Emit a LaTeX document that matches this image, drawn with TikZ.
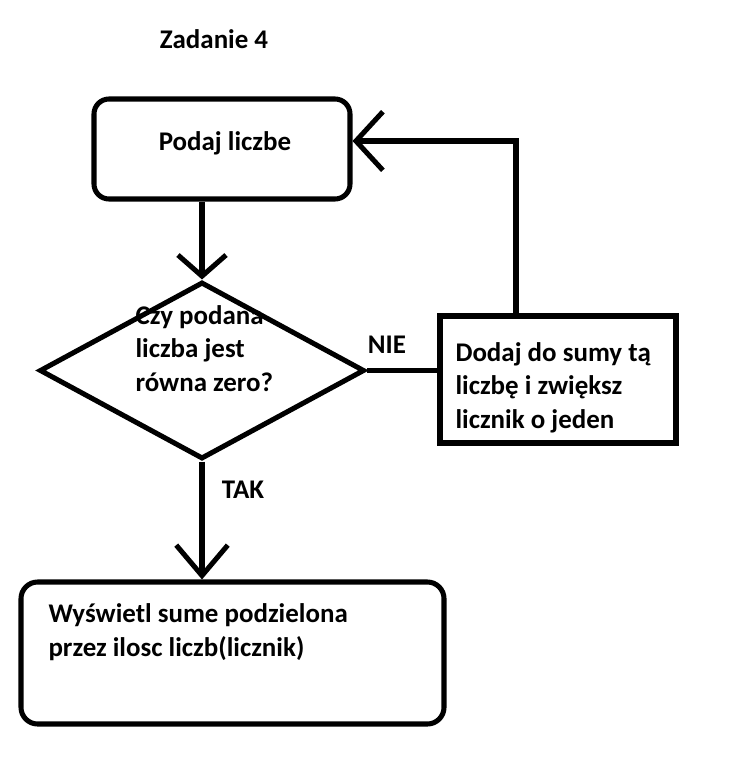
\documentclass[tikz,border=0pt]{standalone}
\usepackage{fontspec}
\setmainfont{Carlito}
\usetikzlibrary{shapes.geometric,arrows.meta,positioning}

\begin{document}
\begin{tikzpicture}[x=0.03cm,y=-0.03cm,line width=4.3pt,
    font=\bfseries\fontsize{23}{28.5}\selectfont,
    txt/.style={inner sep=0pt,align=left},
    startbox/.style={draw,rounded corners=0.45cm,minimum width=7.68cm,minimum height=3cm},
    decision/.style={draw,diamond,inner sep=0pt,minimum width=9.75cm,minimum height=5.31cm},
    process/.style={draw,minimum width=7.08cm,minimum height=3.81cm},
    endbox/.style={draw,rounded corners=0.5cm,minimum width=12.69cm,minimum height=4.26cm}]
    \useasboundingbox (0,0) rectangle (735,779);
    \node[txt,anchor=base] (title) at (214,48) {Zadanie 4};
    % boxes
    \node[startbox] (podaj)    at (222,149)   {};
    \node[decision] (czy)      at (202,370.5) {};
    \node[process]  (dodaj)    at (558,379.5) {};
    \node[endbox]   (wyswietl) at (232.5,653) {};
    % texts (base = last line)
    \node[txt,anchor=base]      (podajtxt) at (225,150) {Podaj liczbe};
    \node[txt,anchor=base west] (czytxt)   at (133,391) {Czy podana\\liczba jest\\równa zero?};
    \node[txt,anchor=base west] (dodajtxt) at (453,428) {Dodaj do sumy tą\\liczbę i zwiększ\\licznik o jeden};
    \node[txt,anchor=base west] (wyswtxt)  at (46,656)  {Wyświetl sume podzielona\\przez ilosc liczb(licznik)};
    \node[txt,anchor=base]      (nie)      at (387,353) {NIE};
    \node[txt,anchor=base]      (tak)      at (243,498) {TAK};
    \coordinate (zawrot) at (516,141);
    % edges
    \draw[-{Straight Barb[length=18pt,width=41pt]}] (czy.north |- podaj.south) -- (czy.north);
    \draw (czy.east) -- (czy.east -| dodaj.west);
    \draw[-{Straight Barb[length=23pt,width=50pt]}] (dodaj.north -| zawrot) -- (zawrot) -- (zawrot -| podaj.east);
    \draw[-{Straight Barb[length=26pt,width=44pt]}] (czy.south) -- (czy.south |- wyswietl.north);
\end{tikzpicture}
\end{document}
